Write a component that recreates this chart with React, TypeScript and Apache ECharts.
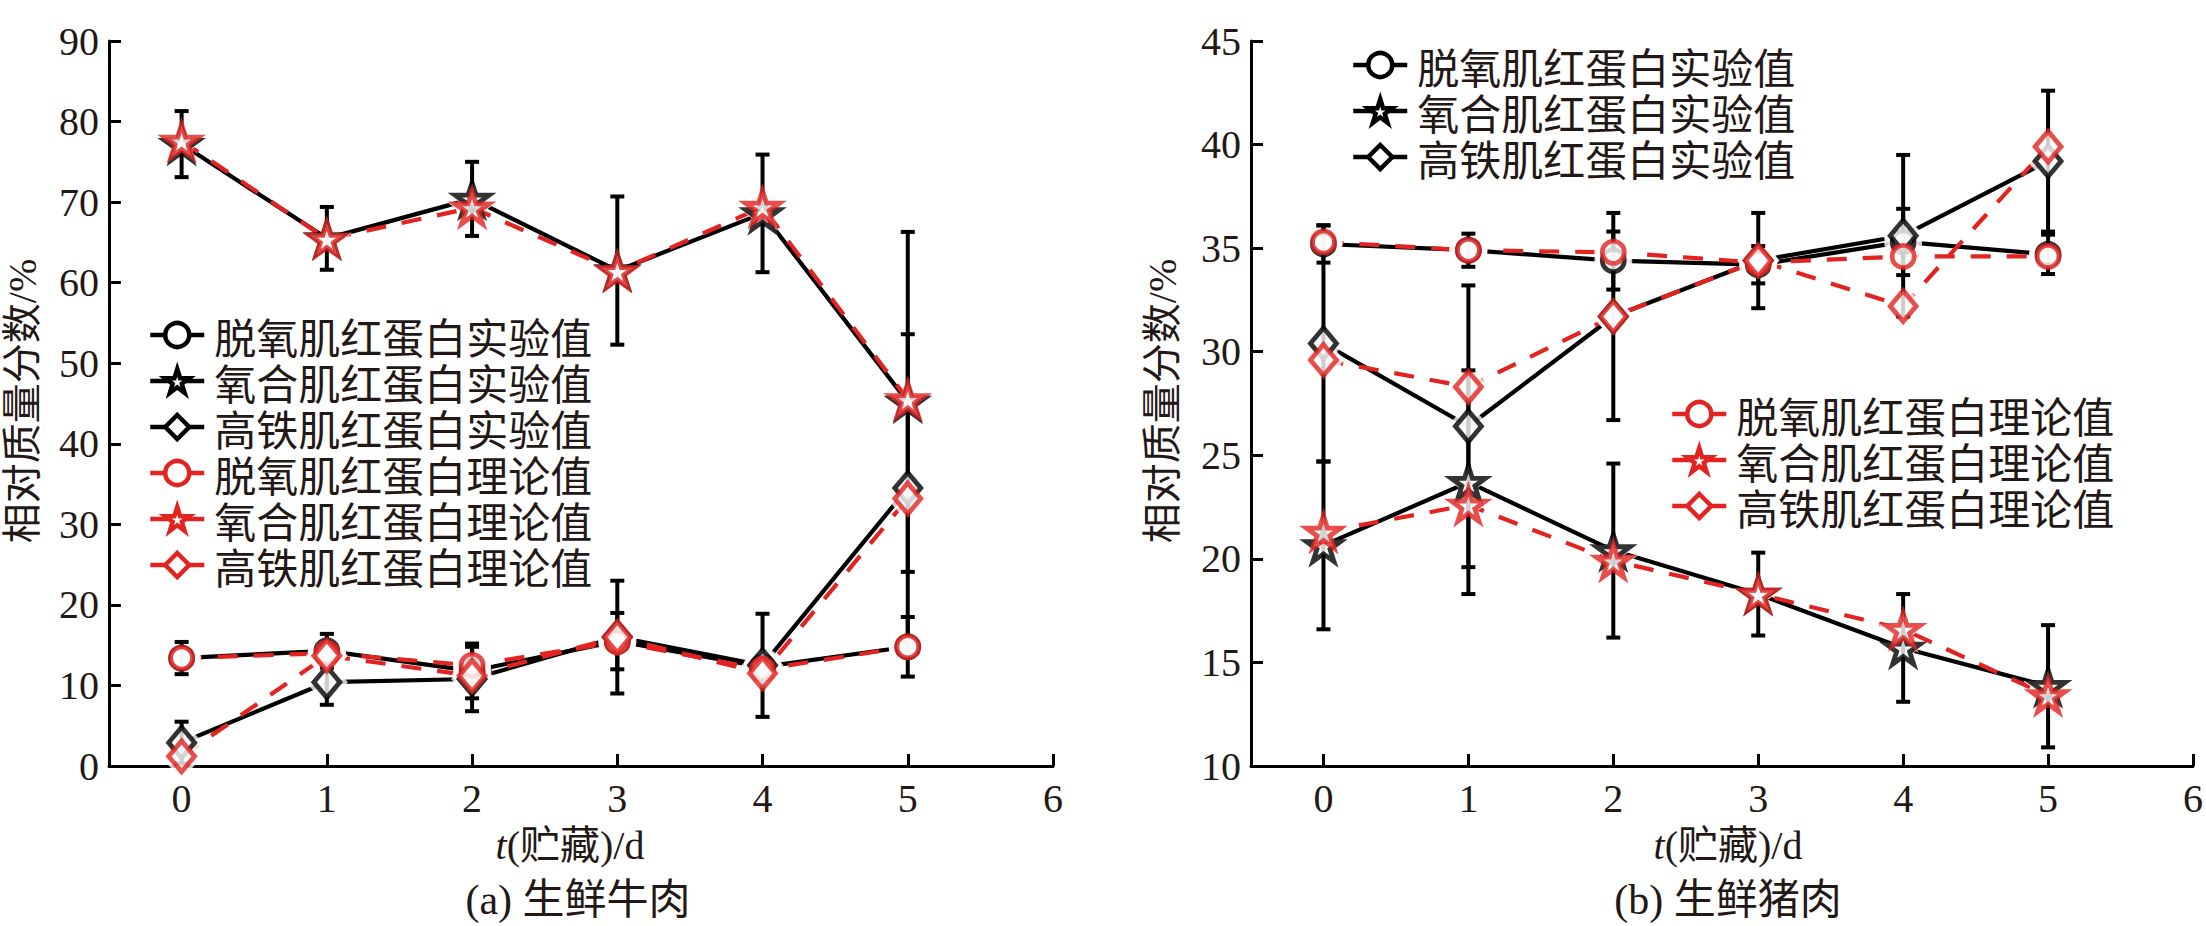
import React, { useEffect, useRef } from "react";
import * as echarts from "echarts";

// ---- data ----
const days = [0, 1, 2, 3, 4, 5];
const xTickValues = [0, 1, 2, 3, 4, 5, 6];

const seriesNames = [
  "脱氧肌红蛋白实验值",
  "氧合肌红蛋白实验值",
  "高铁肌红蛋白实验值",
  "脱氧肌红蛋白理论值",
  "氧合肌红蛋白理论值",
  "高铁肌红蛋白理论值",
];

// (a) fresh beef
const deoxyExpA = [13.4, 14.3, 11.8, 15.5, 12.3, 14.8];
const deoxyExpErrA = [2.0, 2.1, 3.4, 3.5, 0.8, 3.7];
const oxyExpA = [77.2, 65.5, 70.4, 61.5, 68.6, 45.2];
const oxyExpErrA = [4.1, 3.9, 4.6, 9.2, 7.3, 21.1];
const metExpA = [2.9, 10.4, 10.8, 16.0, 12.5, 34.5];
const metExpErrA = [2.6, 2.8, 4.0, 7.0, 6.4, 19.1];
const deoxyTheoA = [13.4, 14.0, 12.5, 15.4, 12.0, 14.8];
const oxyTheoA = [77.6, 65.4, 69.3, 61.4, 69.4, 45.5];
const metTheoA = [1.2, 13.7, 11.2, 16.0, 11.5, 33.2];

// (b) fresh pork
const deoxyExpB = [35.2, 34.9, 34.4, 34.2, 35.3, 34.7];
const deoxyExpErrB = [0.9, 0.8, 1.4, 0.9, 1.6, 0.95];
const oxyExpB = [20.65, 23.7, 20.4, 18.3, 15.7, 13.85];
const oxyExpErrB = [4.05, 5.4, 4.2, 2.0, 2.6, 2.95];
const metExpB = [30.4, 26.4, 31.7, 34.4, 35.6, 39.2];
const metExpErrB = [5.7, 6.8, 5.0, 2.3, 3.9, 3.4];
const deoxyTheoB = [35.3, 34.9, 34.8, 34.3, 34.6, 34.6];
const oxyTheoB = [21.3, 22.6, 19.9, 18.3, 16.6, 13.4];
const metTheoB = [29.6, 28.3, 31.7, 34.4, 32.2, 39.9];

const yTitle = "相对质量分数/%";
const xTitle = "{i|t}(贮藏)/d";
const captionA = "(a) 生鲜牛肉";
const captionB = "(b) 生鲜猪肉";

// ---- styles ----
const RED = "#e2231f";
const BLACK = "#000000";
const TEXT = "#231815";
const SERIF = '"Liberation Serif", "Noto Sans CJK SC", serif';
const CJK = '"Noto Sans CJK SC", sans-serif';
const STAR =
  "path://M0,-1L0.2245,-0.309L0.951,-0.309L0.363,0.118L0.588,0.809L0,0.382L-0.588,0.809L-0.363,0.118L-0.951,-0.309L-0.2245,-0.309Z";

const symbolDefs = [
  { symbol: "circle", size: 22 as any },
  { symbol: STAR, size: 34 as any },
  { symbol: "diamond", size: [26, 31] as any },
];

function enlarge(size: any, d: number) {
  return Array.isArray(size) ? [size[0] + d, size[1] + d] : size + d;
}

function buildSeries(g: number, exp: number[][], expErr: number[][], theo: number[][]) {
  const lines: any[] = [];
  const halos: any[] = [];
  const bars: any[] = [];
  const marks: any[] = [];
  const groups = [
    { vals: exp, color: BLACK, dashed: false, offset: 0 },
    { vals: theo, color: RED, dashed: true, offset: 3 },
  ];
  groups.forEach((grp) => {
    grp.vals.forEach((vals, k) => {
      const data = days.map((d, i) => [d, vals[i]]);
      const sd = symbolDefs[k];
      lines.push({
        type: "line",
        name: seriesNames[grp.offset + k],
        xAxisIndex: g,
        yAxisIndex: g,
        data,
        symbol: sd.symbol,
        symbolSize: sd.size,
        symbolKeepAspect: true,
        showSymbol: false,
        lineStyle: { color: grp.color, width: 4.2, type: grp.dashed ? [20, 16] : "solid" },
        itemStyle: { color: "#fff", borderColor: grp.color, borderWidth: 4.5 },
        z: 2,
        silent: true,
        emphasis: { disabled: true },
      });
      halos.push({
        type: "scatter",
        xAxisIndex: g,
        yAxisIndex: g,
        data,
        symbol: sd.symbol,
        symbolSize: enlarge(sd.size, 16),
        symbolKeepAspect: true,
        itemStyle: { color: "#fff", borderWidth: 0 },
        z: 3,
        silent: true,
        emphasis: { disabled: true },
      });
      marks.push({
        type: "scatter",
        xAxisIndex: g,
        yAxisIndex: g,
        data,
        symbol: sd.symbol,
        symbolSize: sd.size,
        symbolKeepAspect: true,
        itemStyle: { color: "#fff", borderColor: grp.color, borderWidth: 4.8 },
        z: 5,
        silent: true,
        emphasis: { disabled: true },
      });
    });
  });
  exp.forEach((vals, k) => {
    bars.push({
      type: "custom",
      xAxisIndex: g,
      yAxisIndex: g,
      data: days.map((d, i) => [d, vals[i], expErr[k][i]]),
      encode: { x: 0, y: 1 },
      z: 4,
      silent: true,
      renderItem: (params: any, api: any) => {
        const x = api.value(0);
        const y = api.value(1);
        const e = api.value(2);
        const top = api.coord([x, y + e]);
        const bot = api.coord([x, y - e]);
        const hw = 7;
        const style = { stroke: BLACK, lineWidth: 4 };
        return {
          type: "group",
          children: [
            { type: "line", shape: { x1: top[0], y1: top[1], x2: bot[0], y2: bot[1] }, style },
            { type: "line", shape: { x1: top[0] - hw, y1: top[1], x2: top[0] + hw, y2: top[1] }, style },
            { type: "line", shape: { x1: bot[0] - hw, y1: bot[1], x2: bot[0] + hw, y2: bot[1] }, style },
          ],
        };
      },
    });
  });
  return [...lines, ...halos, ...bars, ...marks];
}

function xAxis(g: number) {
  return {
    type: "value",
    gridIndex: g,
    min: -0.5,
    max: 6,
    axisLine: { show: true, onZero: false, lineStyle: { color: BLACK, width: 3 } },
    axisTick: { show: true, inside: true, length: 12, lineStyle: { color: BLACK, width: 3 }, customValues: xTickValues },
    axisLabel: { customValues: xTickValues, margin: 12, fontSize: 40, fontFamily: SERIF, color: TEXT },
    splitLine: { show: false },
  };
}

function yAxis(g: number, min: number, max: number, interval: number) {
  return {
    type: "value",
    gridIndex: g,
    min,
    max,
    interval,
    axisLine: { show: true, onZero: false, lineStyle: { color: BLACK, width: 3 } },
    axisTick: { show: true, inside: true, length: 12, lineStyle: { color: BLACK, width: 3 } },
    axisLabel: { margin: 10, fontSize: 40, fontFamily: SERIF, color: TEXT },
    splitLine: { show: false },
  };
}

const legendBase = {
  orient: "vertical",
  itemWidth: 54,
  itemHeight: 30,
  itemGap: 2,
  padding: 0,
  selectedMode: false,
  lineStyle: { width: 4.5 },
  itemStyle: { borderWidth: 4.5 },
  textStyle: { fontSize: 42, fontFamily: CJK, color: TEXT, lineHeight: 44, padding: [0, 0, 0, 5] },
};

function text(x: number, y: number, t: string, extra: any = {}) {
  return {
    type: "text",
    x,
    y,
    silent: true,
    ...extra,
    style: {
      text: t,
      fontSize: 40,
      fontFamily: SERIF,
      fill: TEXT,
      align: "center",
      verticalAlign: "middle",
      rich: { i: { fontStyle: "italic", fontSize: 40, fontFamily: SERIF, fill: TEXT } },
      ...(extra.style || {}),
    },
  };
}

export default function App() {
  const ref = useRef<HTMLDivElement>(null);
  useEffect(() => {
    if (!ref.current) return;
    const chart = echarts.init(ref.current, undefined, { renderer: "svg" });
    const option: any = {
      animation: false,
      backgroundColor: "#ffffff",
      grid: [
        { left: 109, top: 41, width: 944, height: 725 },
        { left: 1251, top: 41, width: 944, height: 725 },
      ],
      xAxis: [xAxis(0), xAxis(1)],
      yAxis: [yAxis(0, 0, 90, 10), yAxis(1, 10, 45, 5)],
      legend: [
        { ...legendBase, left: 148, top: 313, data: seriesNames },
        { ...legendBase, left: 1351, top: 43, data: seriesNames.slice(0, 3) },
        { ...legendBase, left: 1670, top: 392, data: seriesNames.slice(3) },
      ],
      series: [
        ...buildSeries(
          0,
          [deoxyExpA, oxyExpA, metExpA],
          [deoxyExpErrA, oxyExpErrA, metExpErrA],
          [deoxyTheoA, oxyTheoA, metTheoA]
        ),
        ...buildSeries(
          1,
          [deoxyExpB, oxyExpB, metExpB],
          [deoxyExpErrB, oxyExpErrB, metExpErrB],
          [deoxyTheoB, oxyTheoB, metTheoB]
        ),
      ],
      graphic: [
        text(22, 401, yTitle, { rotation: Math.PI / 2 }),
        text(1162, 401, yTitle, { rotation: Math.PI / 2 }),
        text(570, 845, xTitle),
        text(1728, 845, xTitle),
        text(578, 900, captionA, { style: { fontSize: 42 } }),
        text(1728, 900, captionB, { style: { fontSize: 42 } }),
      ],
    };
    chart.setOption(option);
    return () => chart.dispose();
  }, []);
  return (
    <div
      ref={ref}
      style={{ position: "fixed", left: 0, top: 0, width: 2206, height: 926, background: "#fff" }}
    />
  );
}
